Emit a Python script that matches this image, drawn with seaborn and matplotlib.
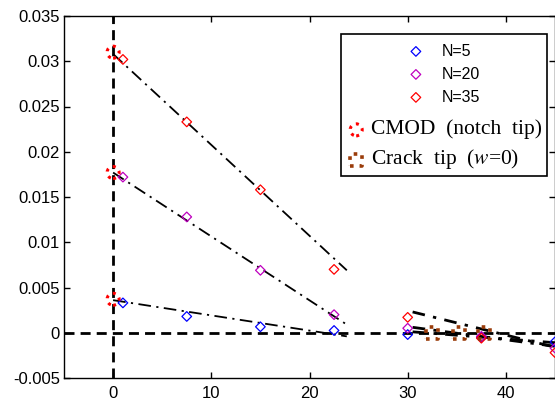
import numpy as np
import pandas as pd
import matplotlib
matplotlib.use("Agg")
import matplotlib.pyplot as plt
import matplotlib.ticker as mticker
import seaborn as sns

# diamond markers: relative position vs value, for three N
x_pts = [1, 7.5, 15, 22.5, 30, 37.5, 45]
y_n5 = [0.0033, 0.0018, 0.00066, 0.00025, -0.0002, -0.0005, -0.0010]
y_n20 = [0.0172, 0.0128, 0.0069, 0.0020, 0.0005, -0.0004, -0.0017]
y_n35 = [0.0302, 0.0233, 0.0158, 0.0070, 0.0017, -0.0006, -0.0022]

# CMOD (notch tip) and crack tip markers
cmod_x = [0, 0, 0]
cmod_y = [0.0310, 0.0177, 0.0037]
crack_x = [32.5, 35.2, 37.8]
crack_y = [0.0, 0.0, 0.0]

# fitted dash-dot lines (end points)
fit1_x = [0, 23.8]
fit1_n35 = [0.0308, 0.0069]
fit1_n20 = [0.0177, 0.0009]
fit1_n5 = [0.0036, -0.0004]
fit2_x = [30.5, 45]
fit2_n35 = [0.0023, -0.0016]
fit2_n20 = [0.0006, -0.0015]
fit2_n5 = [0.0001, -0.0011]

colors = {"N=5": "#0000ff", "N=20": "#bf00bf", "N=35": "#ff0000"}
brown = "#9a3c0a"

plt.rcParams["font.family"] = ["Liberation Sans", "DejaVu Sans"]
plt.rcParams["mathtext.fontset"] = "stix"

fig = plt.figure(figsize=(5.55, 3.98), dpi=100)
ax = fig.add_axes([64 / 555, 20 / 398, 1 - 64 / 555, 362 / 398])

# reference lines
ax.axhline(0, color="k", lw=2, ls=(0, (3.6, 2.2)), zorder=1)
ax.axvline(0, color="k", lw=2, ls=(0, (3.6, 2.2)), zorder=1)

# fit lines
for fx, fits, lw in [(fit1_x, [fit1_n35, fit1_n20, fit1_n5], 1.3),
                     (fit2_x, [fit2_n35, fit2_n20, fit2_n5], 2.0)]:
    for fy in fits:
        sns.lineplot(x=fx, y=fy, color="k", lw=lw, ax=ax, sort=False,
                     estimator=None, zorder=2)
        ax.lines[-1].set_dashes((7 / lw * 1.3, 3, 1.2, 3))

handles = []
for lab, ys in [("N=5", y_n5), ("N=20", y_n20), ("N=35", y_n35)]:
    sns.scatterplot(x=x_pts, y=ys, marker="D", s=24, facecolor="none",
                    edgecolor=colors[lab], linewidth=0.9, ax=ax, zorder=3)
    coll = ax.collections[-1]
    coll.set_label(lab)
    handles.append(coll)

sns.scatterplot(x=cmod_x, y=cmod_y, marker="o", s=75, facecolor="none",
                edgecolor="#ff0000", linewidth=2.2, linestyle=":", ax=ax, zorder=4)
c1 = ax.collections[-1]
c1.set_label("CMOD  (notch  tip)")
handles.append(c1)

sns.scatterplot(x=crack_x, y=crack_y, marker="s", s=75, facecolor="none",
                edgecolor=brown, linewidth=2.6, linestyle=":", ax=ax, zorder=4)
c2 = ax.collections[-1]
c2.set_label("Crack  tip  ($w$=0)")
handles.append(c2)

ax.set_xlim(-5, 45)
ax.set_ylim(-0.005, 0.035)
ax.set_xticks([0, 10, 20, 30, 40])
ax.set_yticks(np.arange(-0.005, 0.0351, 0.005))
ax.yaxis.set_major_formatter(mticker.FuncFormatter(lambda v, p: "%g" % round(v, 4)))
ax.tick_params(direction="in", top=True, right=True, length=4, width=1,
               labelsize=12)
ax.tick_params(axis="x", pad=6)
ax.tick_params(axis="y", pad=3)
for sp in ax.spines.values():
    sp.set_linewidth(1.0)

leg = ax.legend(handles=handles, loc="upper right", bbox_to_anchor=(0.984, 0.95),
                borderaxespad=0, fancybox=False, framealpha=1, edgecolor="k",
                handletextpad=0.3, labelspacing=0.5, borderpad=0.3,
                handlelength=1.3, scatterpoints=1, fontsize=11.5)
leg.get_frame().set_linewidth(1.2)
for i, t in enumerate(leg.get_texts()):
    if i >= 3:
        t.set_fontfamily(["Liberation Serif", "DejaVu Serif"])
        t.set_fontsize(15.5)

# indent the N rows and space the rows like the original legend
column = leg._legend_handle_box.get_children()[0]
rows = column.get_children()
for row in rows[:3]:
    da = row.get_children()[0]
    da.width += 51
    for art in da.get_children():
        art.set_offsets(art.get_offsets() + np.array([43, 0]))
rows[0].get_children()[0].height += 4
da35 = rows[2].get_children()[0]
da35.height += 7
da35.ydescent += 7

fig.savefig("out.png", dpi=100)
